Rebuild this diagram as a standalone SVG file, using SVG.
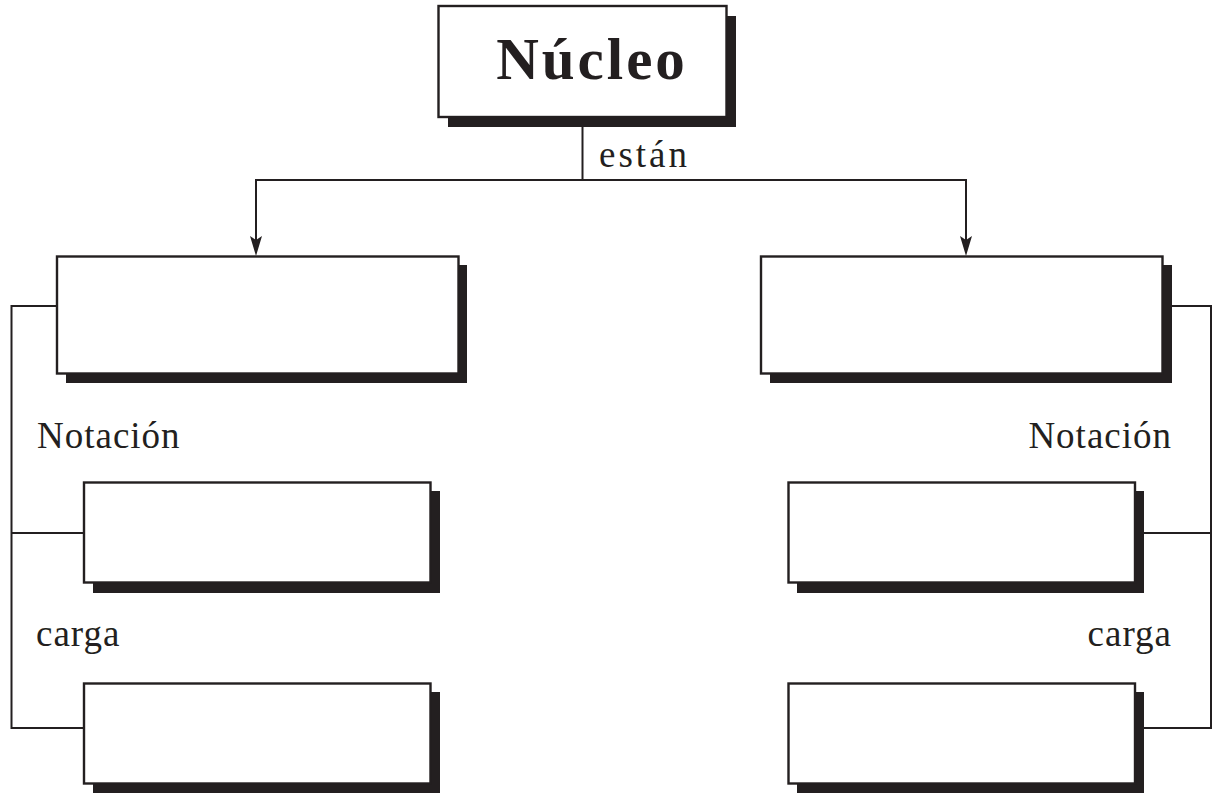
<svg xmlns="http://www.w3.org/2000/svg" width="1213" height="795" viewBox="0 0 1213 795">
<style>
.box{fill:#fff;stroke:#231f20;stroke-width:2.4}
.sh{fill:#231f20}
.ln{fill:none;stroke:#231f20;stroke-width:2}
.ah{fill:#231f20}
.lbl{font-family:"Liberation Serif",serif;font-size:37px;fill:#231f20;letter-spacing:1px}
.title{font-family:"Liberation Serif",serif;font-size:59px;font-weight:bold;fill:#231f20;letter-spacing:3px}
</style>
<rect width="1213" height="795" fill="#fff"/>
<g id="connectors">
<line class="ln" x1="582.5" y1="117" x2="582.5" y2="180"/>
<line class="ln" x1="255" y1="180" x2="967" y2="180"/>
<line class="ln" x1="256" y1="179" x2="256" y2="240"/>
<path class="ah" d="M250,236 L256,240 L262,236 L256,256 Z"/>
<line class="ln" x1="966" y1="179" x2="966" y2="240"/>
<path class="ah" d="M960,236 L966,240 L972,236 L966,256 Z"/>
<polyline class="ln" points="57,306 11.5,306 11.5,728 84,728"/>
<line class="ln" x1="11.5" y1="533" x2="84" y2="533"/>
<polyline class="ln" points="1171,306 1211,306 1211,728 1144,728"/>
<line class="ln" x1="1144" y1="533" x2="1211" y2="533"/>
</g>
<g id="nucleo">
<rect class="sh" x="448" y="16" width="288" height="111"/>
<rect class="box" x="438.5" y="6" width="288" height="111"/>
<text class="title" x="592" y="79" text-anchor="middle">Núcleo</text>
</g>
<g id="label-estan"><text class="lbl" x="599" y="167" style="letter-spacing:3px">están</text></g>
<g id="box-left-1">
<rect class="sh" x="66" y="265" width="401" height="118"/>
<rect class="box" x="57" y="256.5" width="401.5" height="117"/>
</g>
<g id="box-right-1">
<rect class="sh" x="770" y="265" width="402" height="118"/>
<rect class="box" x="761" y="256.5" width="401.5" height="117"/>
</g>
<g id="label-notacion-left"><text class="lbl" x="37" y="448">Notación</text></g>
<g id="label-notacion-right"><text class="lbl" x="1172" y="448" text-anchor="end">Notación</text></g>
<g id="box-left-2">
<rect class="sh" x="93" y="491" width="347" height="102"/>
<rect class="box" x="84" y="482.5" width="346.5" height="100"/>
</g>
<g id="box-right-2">
<rect class="sh" x="797" y="491" width="347" height="102"/>
<rect class="box" x="788.5" y="482.5" width="346.5" height="100"/>
</g>
<g id="label-carga-left"><text class="lbl" x="36" y="646">carga</text></g>
<g id="label-carga-right"><text class="lbl" x="1172" y="646" text-anchor="end">carga</text></g>
<g id="box-left-3">
<rect class="sh" x="93" y="692" width="347" height="101"/>
<rect class="box" x="84" y="683.5" width="346.5" height="100"/>
</g>
<g id="box-right-3">
<rect class="sh" x="797" y="692" width="347" height="101"/>
<rect class="box" x="788.5" y="683.5" width="346.5" height="100"/>
</g>
</svg>
